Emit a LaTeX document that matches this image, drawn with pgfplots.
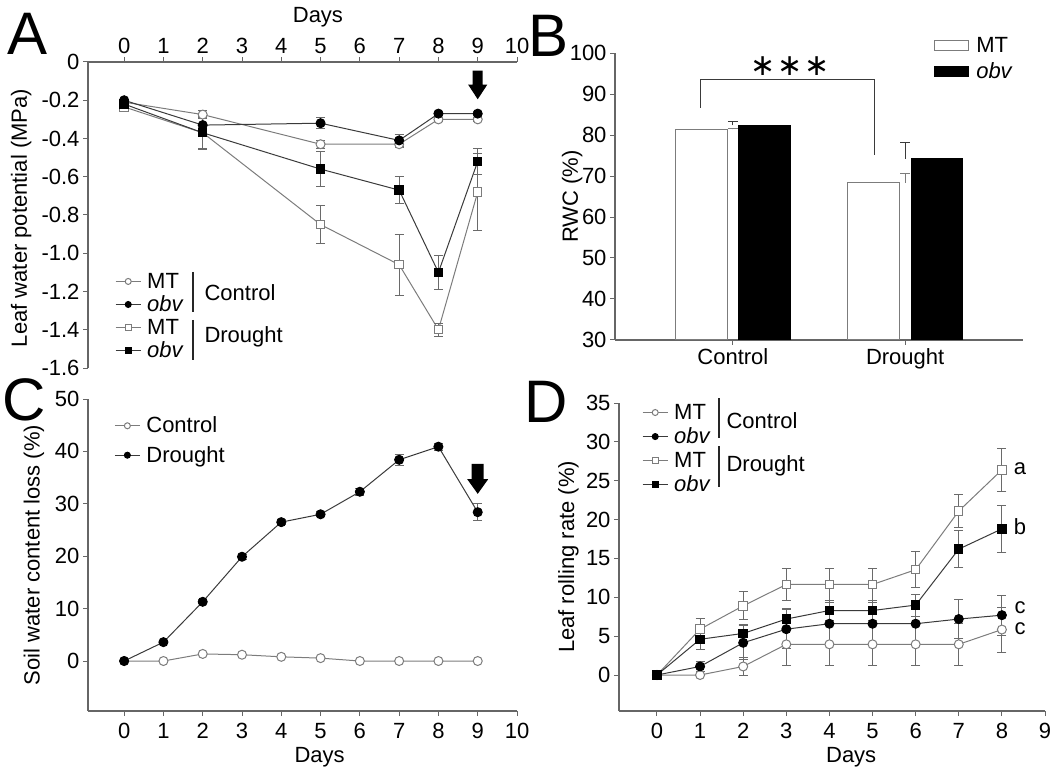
\documentclass[border=0pt]{standalone}
\usepackage{fontspec}
\setmainfont{Liberation Sans}
\newfontfamily\symfont{DejaVu Sans}
\usepackage{pgfplots}
\pgfplotsset{compat=1.18}

\definecolor{mtline}{HTML}{7C7C7C}
\definecolor{obvline}{HTML}{3A3A3A}
\definecolor{axcol}{HTML}{666666}
\definecolor{errcol}{HTML}{6A6A6A}

\newcommand{\tfont}{\fontsize{22}{25}\selectfont}
\newcommand{\pfont}{\fontsize{60}{64}\selectfont}
\newcommand{\stars}{{\symfont ∗\hspace{2pt}∗\hspace{2pt}∗}}

\pgfplotsset{
  panel/.style={
    scale only axis, anchor=south west, clip=false,
    axis line style={axcol, line width=1.1pt},
    tick style={axcol, line width=1pt},
    major tick length=5pt,
    tick align=outside,
    tick label style={font=\tfont},
    /pgf/number format/assume math mode=true,
    label style={font=\tfont},
    legend style={font=\tfont, draw=none, fill=none, inner sep=0pt,
      nodes={inner sep=1pt}, anchor=north west},
    legend cell align=left,
    legend image code/.code={\draw[##1, mark repeat=2, mark phase=2]
      plot coordinates {(0pt,0pt) (12.5pt,0pt) (25pt,0pt)};},
    legend image post style={mark size=3pt},
  },
  ebar/.style={error bars/y dir=both, error bars/y explicit,
    error bars/error bar style={errcol, line width=0.9pt, solid},
    error bars/error mark options={rotate=90, mark size=4.5pt, errcol, line width=0.9pt, solid}},
  mtC/.style={mtline, line width=1pt, mark=*, mark size=4.5pt, mark options={fill=white, draw=mtline}},
  obvC/.style={obvline, line width=1pt, mark=*, mark size=4.5pt, mark options={fill=black, draw=black}},
  mtD/.style={mtline, line width=1pt, mark=square*, mark size=4.2pt, mark options={fill=white, draw=mtline}},
  obvD/.style={obvline, line width=1pt, mark=square*, mark size=4.2pt, mark options={fill=black, draw=black}},
}

\begin{document}
\begin{tikzpicture}
\path[use as bounding box] (0pt,0pt) rectangle (1056pt,769pt);

% ---------------- A: leaf water potential ----------------
\begin{axis}[panel, at={(88pt,401pt)}, width=429pt, height=306pt,
  xmin=-0.92, xmax=10, ymin=-1.6, ymax=0,
  axis x line*=top, axis y line*=left,
  xtick={0,...,10},
  ytick={0,-0.2,-0.4,-0.6,-0.8,-1.0,-1.2,-1.4,-1.6},
  yticklabels={0,-0.2,-0.4,-0.6,-0.8,-1.0,-1.2,-1.4,-1.6},
  xlabel={Days},
  xlabel style={at={(axis description cs:0.536,1.147)}, anchor=center},
  ylabel={Leaf water potential (MPa)},
  ylabel style={at={(axis description cs:-0.156,0.49)}, anchor=center},
  legend style={at={(axis description cs:0.063,0.314)}, row sep=4pt, column sep=5pt},
]
\addplot[mtC, ebar] coordinates {(0,-0.21) +- (0,0.005) (2,-0.275) +- (0,0.02) (5,-0.43) +- (0,0.02)
  (7,-0.43) +- (0,0.015) (8,-0.30) +- (0,0.01) (9,-0.30) +- (0,0.01)};
\addlegendentry{MT}
\addplot[obvC, ebar] coordinates {(0,-0.20) +- (0,0.005) (2,-0.33) +- (0,0.01) (5,-0.32) +- (0,0.03)
  (7,-0.41) +- (0,0.03) (8,-0.27) +- (0,0.01) (9,-0.27) +- (0,0.01)};
\addlegendentry{\textit{obv}}
\addplot[mtD, ebar] coordinates {(0,-0.235) +- (0,0.005) (2,-0.37) +- (0,0.08) (5,-0.85) +- (0,0.10)
  (7,-1.06) +- (0,0.16) (8,-1.40) +- (0,0.035) (9,-0.68) +- (0,0.20)};
\addlegendentry{MT}
\addplot[obvD, ebar] coordinates {(0,-0.22) +- (0,0.005) (2,-0.37) +- (0,0.085) (5,-0.56) +- (0,0.09)
  (7,-0.67) +- (0,0.07) (8,-1.10) +- (0,0.09) (9,-0.52) +- (0,0.07)};
\addlegendentry{\textit{obv}}
\fill[black] (axis cs:8.873,-0.045) -- (axis cs:9.127,-0.045) -- (axis cs:9.127,-0.118)
  -- (axis cs:9.245,-0.118) -- (axis cs:9,-0.195) -- (axis cs:8.755,-0.118)
  -- (axis cs:8.873,-0.118) -- cycle;
\end{axis}

% ---------------- B: relative water content ----------------
\begin{axis}[panel, clip=true, at={(615pt,429pt)}, width=408pt, height=287pt,
  xmin=-0.684, xmax=1.684, ymin=30, ymax=100,
  axis x line*=bottom, axis y line*=left,
  xtick={0,1}, xticklabels={Control,Drought},
  ytick={30,40,...,100},
  ylabel={RWC (\%)},
  ylabel style={at={(axis description cs:-0.105,0.5)}, anchor=center},
  legend style={at={(axis description cs:0.782,1.06)}, row sep=7pt, column sep=6pt},
  legend image code/.code={\draw[#1] (0pt,-5pt) rectangle (34pt,5pt);},
]
\addplot[ybar, bar width=0.3, bar shift=-0.184, fill=white, draw=mtline, line width=1pt,
  error bars/.cd, y dir=plus, y explicit,
  error bar style={mtline, line width=1pt},
  error mark options={rotate=90, mark size=5pt, mtline, line width=1pt}]
  coordinates {(0,81.4) +- (0,0.3) (1,68.3) +- (0,2.4)};
\addlegendentry{MT}
\addplot[ybar, bar width=0.3, bar shift=0.184, fill=black, draw=black, line width=1pt,
  error bars/.cd, y dir=plus, y explicit,
  error bar style={obvline, line width=1pt},
  error mark options={rotate=90, mark size=5pt, obvline, line width=1pt}]
  coordinates {(0,82.4) +- (0,1.0) (1,74.2) +- (0,3.9)};
\addlegendentry{\textit{obv}}
\draw[obvline, line width=1pt] (axis cs:-0.19,86.7) -- (axis cs:-0.19,93.6)
  -- (axis cs:0.822,93.6) -- (axis cs:0.822,75.1);
\node[font=\fontsize{30}{30}\selectfont] at (axis cs:0.333,96.9) {\stars};
\end{axis}

% ---------------- C: soil water content loss ----------------
\begin{axis}[panel, at={(88pt,58pt)}, width=429pt, height=312pt,
  xmin=-0.92, xmax=10, ymin=-9.54, ymax=50,
  axis x line*=bottom, axis y line*=left,
  xtick={0,...,10}, ytick={0,10,...,50},
  xticklabel style={yshift=-4pt},
  xlabel={Days},
  xlabel style={at={(axis description cs:0.54,-0.148)}, anchor=center},
  ylabel={Soil water content loss (\%)},
  ylabel style={at={(axis description cs:-0.126,0.5)}, anchor=center},
  legend style={at={(axis description cs:0.061,0.946)}, row sep=10pt, column sep=5pt},
]
\addplot[mtC] coordinates {(0,0) (1,0) (2,1.35) (3,1.2) (4,0.8) (5,0.55) (6,0) (7,0) (8,0) (9,0)};
\addlegendentry{Control}
\addplot[obvC, ebar] coordinates {(0,0) +- (0,0) (1,3.6) +- (0,0.3) (2,11.3) +- (0,0.4)
  (3,19.9) +- (0,0.5) (4,26.5) +- (0,0.5) (5,28.0) +- (0,0.5) (6,32.3) +- (0,0.7)
  (7,38.4) +- (0,1.0) (8,40.9) +- (0,0.7) (9,28.4) +- (0,1.65)};
\addlegendentry{Drought}
\fill[black] (axis cs:8.847,37.6) -- (axis cs:9.153,37.6) -- (axis cs:9.153,34.7)
  -- (axis cs:9.267,34.7) -- (axis cs:9,31.9) -- (axis cs:8.733,34.7)
  -- (axis cs:8.847,34.7) -- cycle;
\end{axis}

% ---------------- D: leaf rolling rate ----------------
\begin{axis}[panel, at={(619pt,58pt)}, width=426pt, height=308pt,
  xmin=-0.88, xmax=9, ymin=-4.63, ymax=35,
  axis x line*=bottom, axis y line*=left,
  xtick={0,...,9}, ytick={0,5,...,35},
  xticklabel style={yshift=-4pt},
  xlabel={Days},
  xlabel style={at={(axis description cs:0.545,-0.151)}, anchor=center},
  ylabel={Leaf rolling rate (\%)},
  ylabel style={at={(axis description cs:-0.119,0.5)}, anchor=center},
  legend style={at={(axis description cs:0.054,1.0)}, row sep=5pt, column sep=5pt},
]
\addplot[mtC, ebar] coordinates {(0,0) +- (0,0) (1,0) +- (0,0) (2,1.1) +- (0,1.1) (3,3.95) +- (0,2.7)
  (4,3.95) +- (0,2.7) (5,3.95) +- (0,2.7) (6,3.95) +- (0,2.7) (7,3.95) +- (0,2.7) (8,5.85) +- (0,2.9)};
\addlegendentry{MT}
\addplot[obvC, ebar] coordinates {(0,0) +- (0,0) (1,1.1) +- (0,0.7) (2,4.15) +- (0,2.2) (3,5.9) +- (0,2.5)
  (4,6.6) +- (0,2.7) (5,6.6) +- (0,2.7) (6,6.6) +- (0,2.7) (7,7.2) +- (0,2.5) (8,7.7) +- (0,2.6)};
\addlegendentry{\textit{obv}}
\addplot[mtD, ebar] coordinates {(0,0) +- (0,0) (1,5.9) +- (0,1.4) (2,8.9) +- (0,1.8) (3,11.65) +- (0,2.05)
  (4,11.65) +- (0,2.05) (5,11.65) +- (0,2.05) (6,13.55) +- (0,2.3) (7,21.1) +- (0,2.15) (8,26.4) +- (0,2.8)};
\addlegendentry{MT}
\addplot[obvD, ebar] coordinates {(0,0) +- (0,0) (1,4.6) +- (0,1.3) (2,5.35) +- (0,1.2) (3,7.2) +- (0,1.4)
  (4,8.3) +- (0,1.3) (5,8.3) +- (0,1.3) (6,9.0) +- (0,1.4) (7,16.2) +- (0,2.4) (8,18.8) +- (0,3.0)};
\addlegendentry{\textit{obv}}
\node[font=\tfont, inner sep=0pt] at (axis cs:8.42,26.5) {a};
\node[font=\tfont, inner sep=0pt] at (axis cs:8.42,19.05) {b};
\node[font=\tfont, inner sep=0pt] at (axis cs:8.42,8.6) {c};
\node[font=\tfont, inner sep=0pt] at (axis cs:8.42,5.9) {c};
\end{axis}

% legend group brackets
\draw[black!85, line width=1.5pt] (193pt,497pt) -- (193pt,457pt);
\draw[black!85, line width=1.5pt] (193pt,449pt) -- (193pt,409pt);
\node[font=\tfont, anchor=west] at (201pt,476pt) {Control};
\node[font=\tfont, anchor=west] at (201pt,432pt) {Drought};
\draw[black!85, line width=1.5pt] (719pt,371pt) -- (719pt,331pt);
\draw[black!85, line width=1.5pt] (719pt,323pt) -- (719pt,282pt);
\node[font=\tfont, anchor=west] at (723pt,348pt) {Control};
\node[font=\tfont, anchor=west] at (723pt,303pt) {Drought};

% panel letters
\node[font=\pfont] at (28pt,735pt) {A};
\node[font=\pfont] at (549pt,733pt) {B};
\node[font=\pfont] at (24pt,369pt) {C};
\node[font=\pfont] at (546pt,367pt) {D};
\end{tikzpicture}
\end{document}
